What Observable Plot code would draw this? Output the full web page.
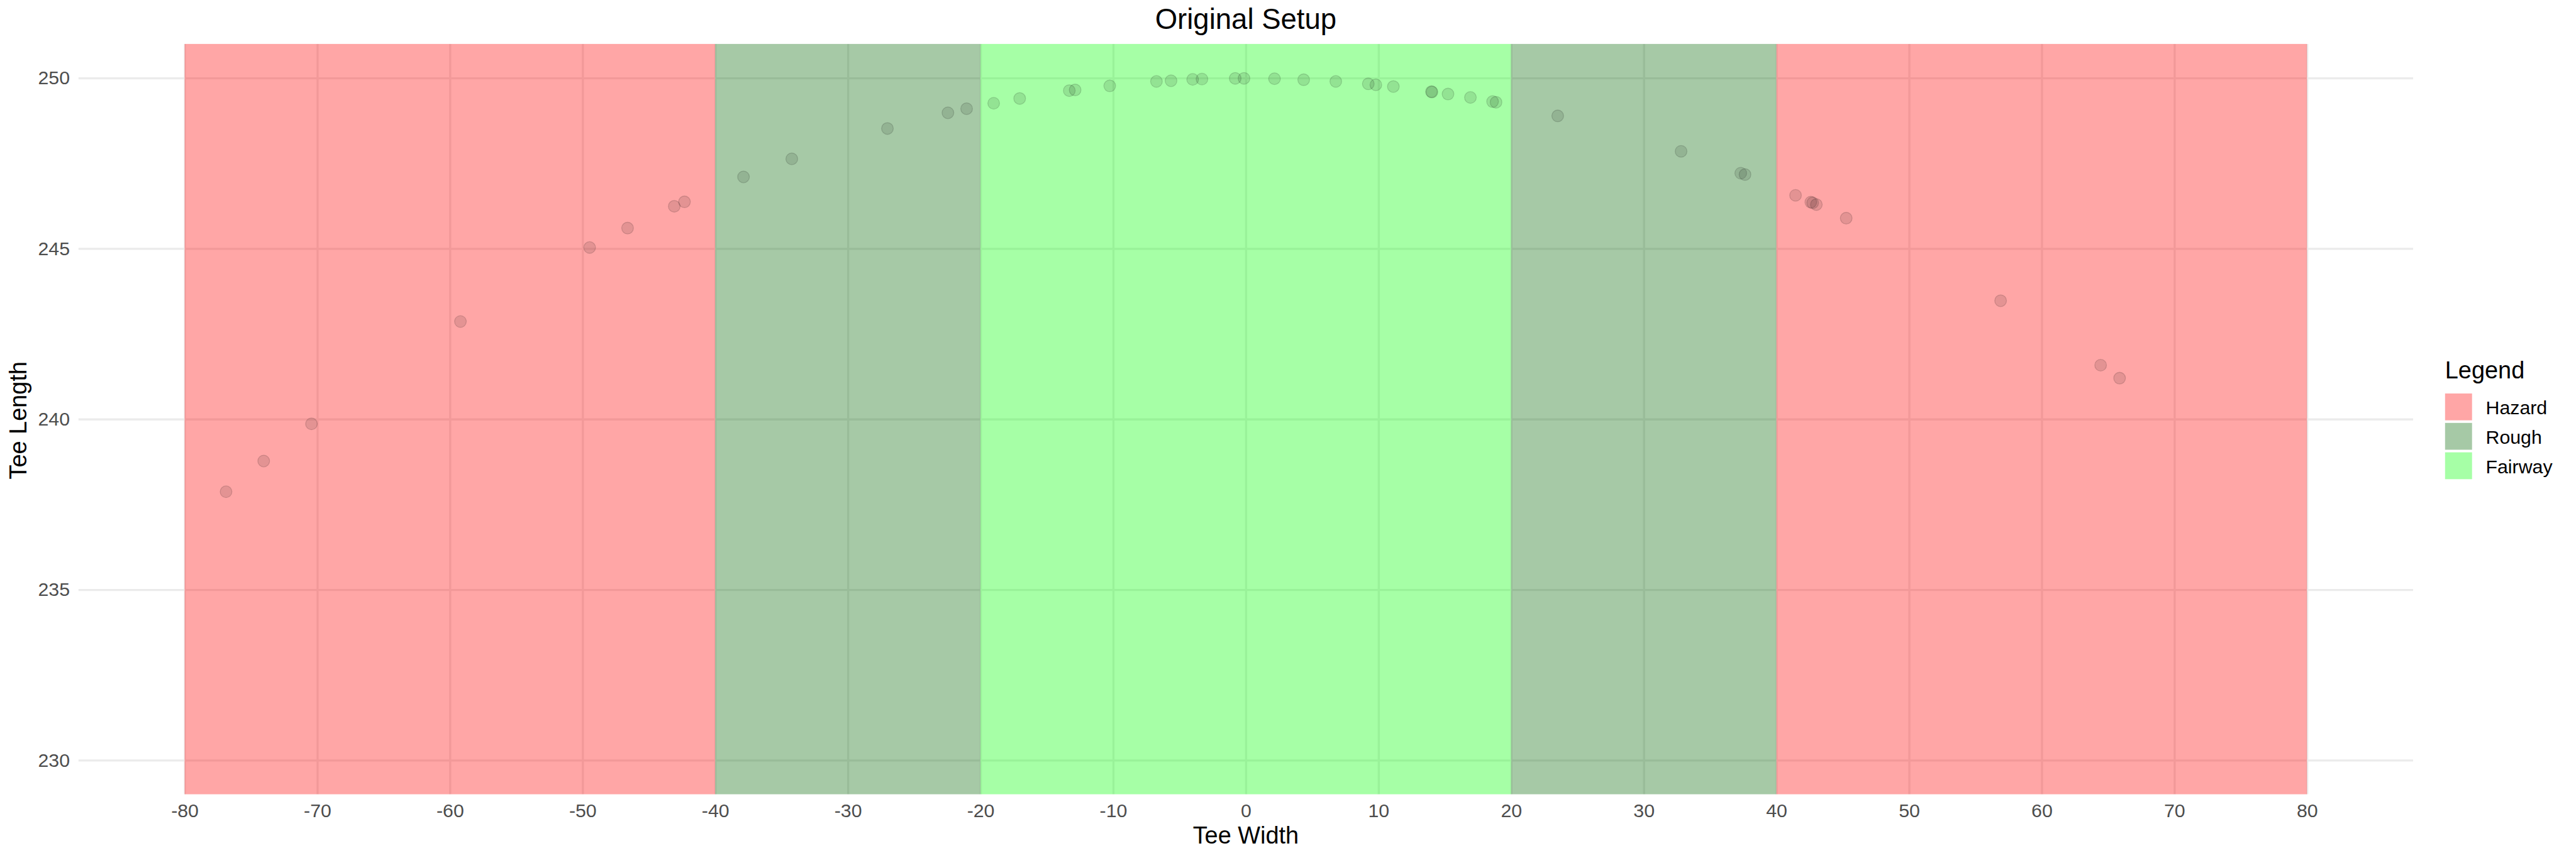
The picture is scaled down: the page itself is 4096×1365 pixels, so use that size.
<!DOCTYPE html>
<html>
<head>
<meta charset="utf-8">
<script src="https://cdn.jsdelivr.net/npm/d3@7"></script>
<script src="https://cdn.jsdelivr.net/npm/@observablehq/plot@0.6"></script>
<style>
  html, body { margin: 0; padding: 0; background: white; }
  #wrap { position: relative; width: 4096px; height: 1365px; overflow: hidden; }
  #overlay { position: absolute; left: 0; top: 0; pointer-events: none; }
</style>
</head>
<body>
<div id="wrap"></div>
<script>
// ---- Data ----
const teeWidth = [
  -76.9, -74.06, -70.46, -59.23, -49.49, -46.63, -43.11, -42.34,
  -37.89, -34.25, -27.04, -22.48, -21.07,
  -19.03, -17.07, -13.33, -12.89, -10.28, -6.76, -5.66, -4.03, -3.33,
  -0.82, -0.16, 2.14, 4.34, 6.76, 9.21, 9.78, 11.10, 13.97, 14.01,
  15.22, 16.91, 18.58, 18.84,
  23.49, 32.79, 37.29, 37.61,
  41.42, 42.57, 42.71, 42.99, 45.24, 56.88, 64.42, 65.85
];
const teeLength = [
  237.88, 238.78, 239.87, 242.87, 245.04, 245.61, 246.25, 246.38,
  247.11, 247.64, 248.53, 248.99, 249.11,
  249.27, 249.41, 249.64, 249.66, 249.78, 249.91, 249.93, 249.97, 249.98,
  250.0, 250.0, 249.99, 249.96, 249.91, 249.84, 249.81, 249.76, 249.61, 249.60,
  249.54, 249.44, 249.32, 249.30,
  248.90, 247.86, 247.22, 247.18,
  246.57, 246.37, 246.35, 246.30, 245.90, 243.48, 241.59, 241.21
];
const zoneName  = ["Hazard", "Rough", "Fairway", "Rough", "Hazard"];
const zoneStart = [-80, -40, -20, 20, 40];
const zoneEnd   = [-40, -20, 20, 40, 80];
const legendLabels = ["Hazard", "Rough", "Fairway"];
const zoneColors   = ["red", "darkgreen", "#00FF00"];
const xTicks = [-80, -70, -60, -50, -40, -30, -20, -10, 0, 10, 20, 30, 40, 50, 60, 70, 80];
const yTicks = [230, 235, 240, 245, 250];
const titleText = "Original Setup";
const xTitle = "Tee Width";
const yTitle = "Tee Length";
const legendTitle = "Legend";

// ---- Tables built from the arrays ----
const points = teeWidth.map((x, i) => ({x, y: teeLength[i]}));
const zones = zoneName.map((z, i) => ({zone: z, start: zoneStart[i], end: zoneEnd[i]}));

const FONT = "'Liberation Sans', Arial, Helvetica, sans-serif";
const W = 4096, H = 1365;
const mL = 124.8, mR = 259, mT = 69.9, mB = 101.4;

const chart = Plot.plot({
  width: W,
  height: H,
  marginLeft: mL,
  marginRight: mR,
  marginTop: mT,
  marginBottom: mB,
  style: {fontFamily: FONT, fontSize: "30.3px", background: "white", overflow: "visible"},
  x: {domain: [-88, 88]},
  y: {domain: [229, 251]},
  color: {domain: legendLabels, range: zoneColors},
  marks: [
    Plot.gridX(xTicks, {stroke: "#EBEBEB", strokeOpacity: 1, strokeWidth: 3.3}),
    Plot.gridY(yTicks, {stroke: "#EBEBEB", strokeOpacity: 1, strokeWidth: 3.3}),
    Plot.rect(zones, {x1: "start", x2: "end", fill: "zone", fillOpacity: 0.35}),
    Plot.dot(points, {x: "x", y: "y", r: 9.35, fill: "black", fillOpacity: 0.11,
                      stroke: "black", strokeOpacity: 0.15, strokeWidth: 1.3}),
    Plot.axisX(xTicks, {tickSize: 0, tickPadding: 14.3, fontSize: 30.3, fill: "#4D4D4D",
                        tickFormat: d => String(d), label: null}),
    Plot.axisY(yTicks, {tickSize: 0, tickPadding: 14.3, fontSize: 30.3, fill: "#4D4D4D",
                        tickFormat: d => String(d), label: null})
  ]
});

const wrap = document.getElementById("wrap");
wrap.appendChild(chart);

// ---- Overlay: title, axis titles, legend ----
const ov = d3.select(wrap).append("svg")
  .attr("id", "overlay")
  .attr("width", W).attr("height", H)
  .style("font-family", FONT);

const panelCx = mL + (W - mL - mR) / 2;
const panelCy = mT + (H - mT - mB) / 2;

ov.append("text").text(titleText)
  .attr("x", panelCx).attr("y", 46)
  .attr("text-anchor", "middle").attr("font-size", 45.5).attr("fill", "black");

ov.append("text").text(xTitle)
  .attr("x", panelCx).attr("y", 1342)
  .attr("text-anchor", "middle").attr("font-size", 37.9).attr("fill", "black");

ov.append("text").text(yTitle)
  .attr("transform", `translate(42.3,${panelCy + 2}) rotate(-90)`)
  .attr("text-anchor", "middle").attr("font-size", 37.9).attr("fill", "black");

const lg = ov.append("g");
lg.append("text").text(legendTitle)
  .attr("x", 3887.8).attr("y", 601.9)
  .attr("font-size", 37.9).attr("fill", "black");
const keyTop = 626, keyStep = 46.8, keyW = 42.9, keyH = 42.7;
legendLabels.forEach((lab, i) => {
  lg.append("rect")
    .attr("x", 3887.8).attr("y", keyTop + i * keyStep)
    .attr("width", keyW).attr("height", keyH)
    .attr("fill", zoneColors[i]).attr("fill-opacity", 0.35);
  lg.append("text").text(lab)
    .attr("x", 3952.5).attr("y", keyTop + i * keyStep + 33.1)
    .attr("font-size", 30.3).attr("fill", "black");
});
</script>
</body>
</html>
